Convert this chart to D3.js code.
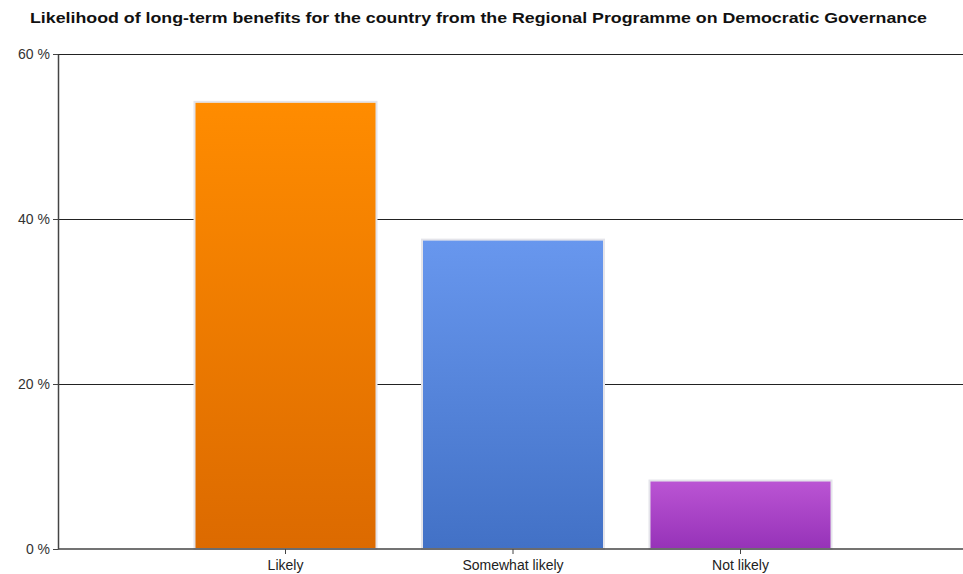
<!DOCTYPE html>
<html>
<head>
<meta charset="utf-8">
<script src="https://cdn.jsdelivr.net/npm/d3@7"></script>
<style>
  body { margin: 0; background: #fff; }
  svg { display: block; font-family: "Liberation Sans", Arial, sans-serif; }
</style>
</head>
<body>
<div id="chart"></div>
<script>
// Data
const categories = ['Likely', 'Somewhat likely', 'Not likely'];
const values = [54.2, 37.5, 8.3];
const yTicks = [0, 20, 40, 60];
const barColors = [
    ['#ff8c00', '#dc6a00'],
    ['#6897ee', '#4271c6'],
    ['#bb55d4', '#9632b8']
];

const width = 963, height = 574;
const margin = { top: 54, right: 0, bottom: 25, left: 58 };

const svg = d3.select('#chart')
    .append('svg')
    .attr('width', width)
    .attr('height', height);

// Gradients for the bars
const defs = svg.append('defs');
barColors.forEach((c, i) => {
    const g = defs.append('linearGradient')
        .attr('id', 'grad' + i)
        .attr('x1', 0).attr('y1', 0).attr('x2', 0).attr('y2', 1);
    g.append('stop').attr('offset', '0%').attr('stop-color', c[0]);
    g.append('stop').attr('offset', '100%').attr('stop-color', c[1]);
});

const x = d3.scaleBand()
    .domain(categories)
    .range([margin.left, 968])
    .paddingInner(0.2)
    .paddingOuter(0.6);

const y = d3.scaleLinear()
    .domain([0, 60])
    .range([height - margin.bottom, margin.top]);

// Title
svg.append('text')
    .attr('x', 30)
    .attr('y', 23)
    .attr('font-size', 14.5)
    .attr('font-weight', 'bold')
    .attr('fill', '#111')
    .attr('textLength', 897)
    .attr('lengthAdjust', 'spacingAndGlyphs')
    .text('Likelihood of long-term benefits for the country from the Regional Programme on Democratic Governance');

// Gridlines
svg.append('g')
    .selectAll('line')
    .data(yTicks.filter(d => d > 0))
    .join('line')
    .attr('x1', margin.left)
    .attr('x2', width)
    .attr('y1', d => y(d) + 0.5)
    .attr('y2', d => y(d) + 0.5)
    .attr('stroke', '#222')
    .attr('stroke-width', 1.2);

// Bars
svg.append('g')
    .selectAll('rect')
    .data(values)
    .join('rect')
    .attr('x', (d, i) => x(categories[i]))
    .attr('y', d => y(d))
    .attr('width', x.bandwidth())
    .attr('height', d => y(0) - y(d))
    .attr('fill', (d, i) => `url(#grad${i})`)
    .attr('stroke', '#e4e4ea')
    .attr('stroke-width', 2);

// Y axis
const yAxis = svg.append('g')
    .attr('transform', `translate(${margin.left},0)`)
    .call(d3.axisLeft(y).tickValues(yTicks).tickSize(5).tickSizeOuter(0).tickFormat(d => d + ' %'));
yAxis.select('.domain').attr('stroke', '#444').attr('stroke-width', 1.5);
yAxis.selectAll('.tick line').attr('stroke', '#444');
yAxis.selectAll('.tick text')
    .attr('font-size', 14)
    .attr('fill', '#333')
    .attr('font-family', '"Liberation Sans", Arial, sans-serif');

// X axis
const xAxis = svg.append('g')
    .attr('transform', `translate(0,${y(0)})`)
    .call(d3.axisBottom(x).tickSize(5).tickSizeOuter(0));
xAxis.select('.domain').attr('stroke', '#444').attr('stroke-width', 1.5)
    .attr('d', `M${margin.left},0H${width}`);
xAxis.selectAll('.tick line').attr('stroke', '#444');
xAxis.selectAll('.tick text')
    .attr('font-size', 14)
    .attr('fill', '#222')
    .attr('dy', '0.9em')
    .attr('font-family', '"Liberation Sans", Arial, sans-serif');
</script>
</body>
</html>
